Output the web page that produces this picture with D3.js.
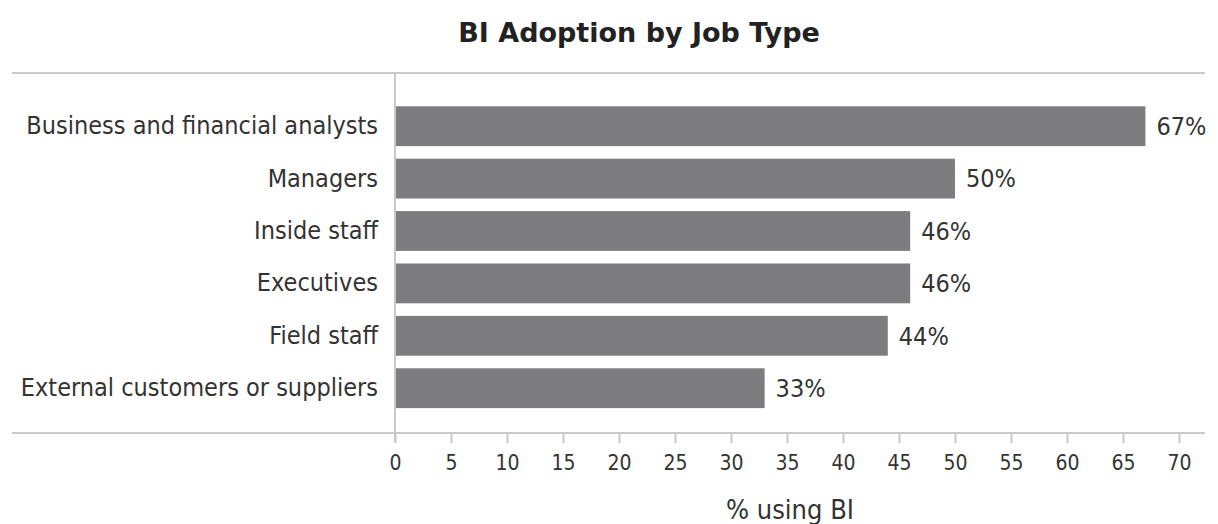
<!DOCTYPE html>
<html>
<head>
<meta charset="utf-8">
<script src="https://cdn.jsdelivr.net/npm/d3@7"></script>
<style>
  html, body { margin: 0; padding: 0; background: #ffffff; }
  svg { display: block; }
  text { font-family: "DejaVu Sans Condensed", "DejaVu Sans", sans-serif; fill: #333333; }
</style>
</head>
<body>
<svg id="chart" width="1218" height="524"></svg>
<script>
// Share of each job type using BI tools (percent)
const categories = [
  "Business and financial analysts",
  "Managers",
  "Inside staff",
  "Executives",
  "Field staff",
  "External customers or suppliers"
];
const values = [67, 50, 46, 46, 44, 33];
const tickValues = [0, 5, 10, 15, 20, 25, 30, 35, 40, 45, 50, 55, 60, 65, 70];
const title = "BI Adoption by Job Type";
const xTitle = "% using BI";

const svg = d3.select("#chart");

const frame = { left: 12, right: 1205, top: 73, bottom: 433 };
const x = d3.scaleLinear().domain([0, 70]).range([395, 1179]);
const y = d3.scaleBand().domain(categories).range([100, 414.4])
  .paddingInner(0.24).paddingOuter(0.12);

const lineColor = "#c9c9c9";

// Title
svg.append("text")
  .attr("x", 639).attr("y", 42)
  .attr("text-anchor", "middle")
  .style("font-family", '"DejaVu Sans", sans-serif')
  .style("font-weight", "bold")
  .style("font-size", "27px")
  .style("fill", "#222")
  .text(title);

// Top rule
svg.append("line")
  .attr("x1", frame.left).attr("x2", frame.right)
  .attr("y1", frame.top).attr("y2", frame.top)
  .attr("stroke", lineColor).attr("stroke-width", 2);

// Bars
svg.append("g").selectAll("rect")
  .data(values)
  .join("rect")
  .attr("x", x(0))
  .attr("y", (d, i) => y(categories[i]))
  .attr("width", d => x(d) - x(0))
  .attr("height", y.bandwidth())
  .attr("fill", "#7d7d80");

// Value labels
svg.append("g").selectAll("text")
  .data(values)
  .join("text")
  .attr("x", d => x(d) + 11)
  .attr("y", (d, i) => y(categories[i]) + y.bandwidth() / 2)
  .attr("dy", "0.35em")
  .style("font-size", "25px")
  .text(d => d + "%");

// Category axis (labels only, plus the vertical rule)
const yAxis = svg.append("g")
  .attr("transform", `translate(${x(0)},0)`)
  .call(d3.axisLeft(y).tickSize(0).tickPadding(17));
yAxis.select(".domain").remove();
yAxis.selectAll("text")
  .style("font-size", "25px")
  .style("fill", "#333");

svg.append("line")
  .attr("x1", x(0)).attr("x2", x(0))
  .attr("y1", frame.top).attr("y2", frame.bottom + 10)
  .attr("stroke", lineColor).attr("stroke-width", 2);

// Value axis
svg.append("line")
  .attr("x1", frame.left).attr("x2", frame.right)
  .attr("y1", frame.bottom).attr("y2", frame.bottom)
  .attr("stroke", lineColor).attr("stroke-width", 2);

const xAxis = svg.append("g")
  .attr("transform", `translate(0,${frame.bottom})`)
  .call(d3.axisBottom(x).tickValues(tickValues).tickSize(10).tickPadding(12));
xAxis.select(".domain").remove();
xAxis.selectAll(".tick line").attr("stroke", lineColor).attr("stroke-width", 2);
xAxis.selectAll("text")
  .style("font-size", "21px")
  .style("fill", "#333");

// Axis title
svg.append("text")
  .attr("x", 790).attr("y", 519)
  .attr("text-anchor", "middle")
  .style("font-size", "27px")
  .text(xTitle);
</script>
</body>
</html>
